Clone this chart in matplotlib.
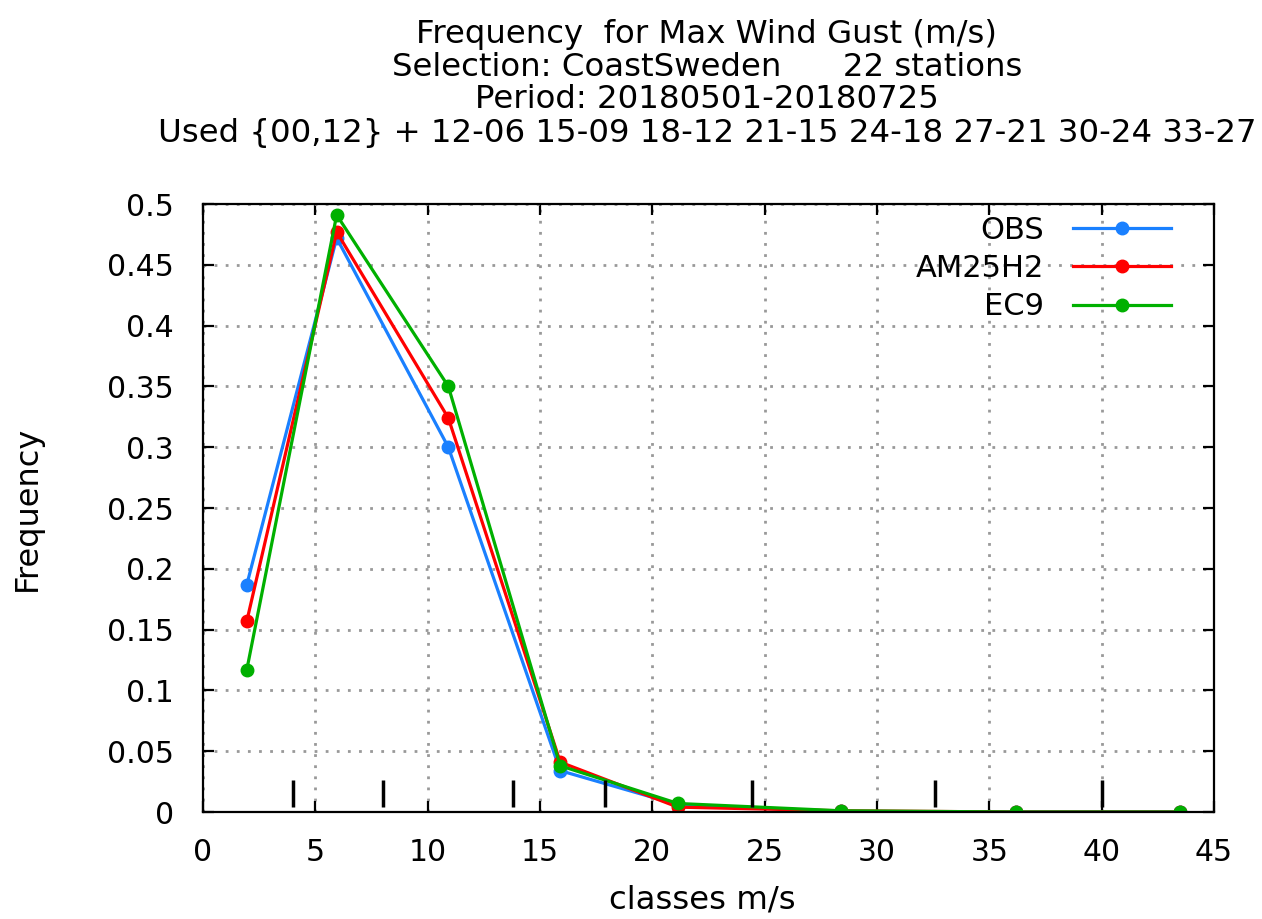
import matplotlib
matplotlib.use("Agg")
import matplotlib.pyplot as plt

classes = [1.95, 5.95, 10.92, 15.9, 21.14, 28.4, 36.2, 43.5]
obs = [0.187, 0.472, 0.300, 0.034, 0.006, 0.0005, 0.0, 0.0]
am25h2 = [0.157, 0.477, 0.324, 0.041, 0.004, 0.001, 0.0, 0.0]
ec9 = [0.117, 0.491, 0.350, 0.038, 0.007, 0.001, 0.0, 0.0]
bounds = [4.0, 8.0, 13.8, 17.9, 24.45, 32.6, 40.0]
series_names = ["OBS", "AM25H2", "EC9"]
colors = ["#1a80ff", "#ff0000", "#00b000"]
title_lines = ["Frequency  for Max Wind Gust (m/s)",
               "Selection: CoastSweden      22 stations",
               "Period: 20180501-20180725",
               "Used {00,12} + 12-06 15-09 18-12 21-15 24-18 27-21 30-24 33-27"]

plt.rcParams['font.family'] = ['DejaVu Sans']
W, H = 1262, 919
fig = plt.figure(figsize=(W / 100, H / 100), dpi=100)
ax = fig.add_axes([203 / W, 1 - 812 / H, (1214 - 203) / W, (812 - 204) / H])

for ys, c, n in zip([obs, am25h2, ec9], colors, series_names):
    ax.plot(classes, ys, color=c, lw=2.3, marker='o', ms=9, label=n)

ax.vlines(bounds, 0.0045, 0.026, color='black', lw=2.5)

ax.set_xlim(0, 45)
ax.set_ylim(0, 0.5)
ax.set_xticks(range(0, 46, 5))
ax.set_yticks([i * 0.05 for i in range(11)])
ax.set_yticklabels(["0", "0.05", "0.1", "0.15", "0.2", "0.25", "0.3", "0.35", "0.4", "0.45", "0.5"])
ax.tick_params(direction='in', top=True, right=True, length=8, width=1.6, labelsize=21.5)
ax.tick_params(axis='y', pad=21)
ax.tick_params(axis='x', pad=19)
ax.grid(True, color='#999999', linestyle=(0, (1, 3)), lw=2)
for s in ax.spines.values():
    s.set_linewidth(1.6)

ax.set_xlabel("classes m/s", fontsize=23.3, va='bottom')
ax.xaxis.set_label_coords(702 / W, 1 - 915 / H, transform=fig.transFigure)
ax.set_ylabel("Frequency", fontsize=23, va='center')
ax.yaxis.set_label_coords(27 / W, 1 - 508 / H, transform=fig.transFigure)

leg = ax.legend(loc='upper right', markerfirst=False, frameon=False, fontsize=22,
                handlelength=3.2, handletextpad=0.95, labelspacing=0.3, numpoints=1,
                borderpad=0, borderaxespad=0,
                bbox_to_anchor=(1171 / W, 1 - 216 / H), bbox_transform=fig.transFigure)
for t in leg.get_texts():
    t.set_ha('right')

for line, yc in zip(title_lines, [35, 68, 100, 133]):
    fig.text(707 / W, 1 - yc / H, line, ha='center', va='center', fontsize=23.3)

fig.savefig("out.png", dpi=100)
